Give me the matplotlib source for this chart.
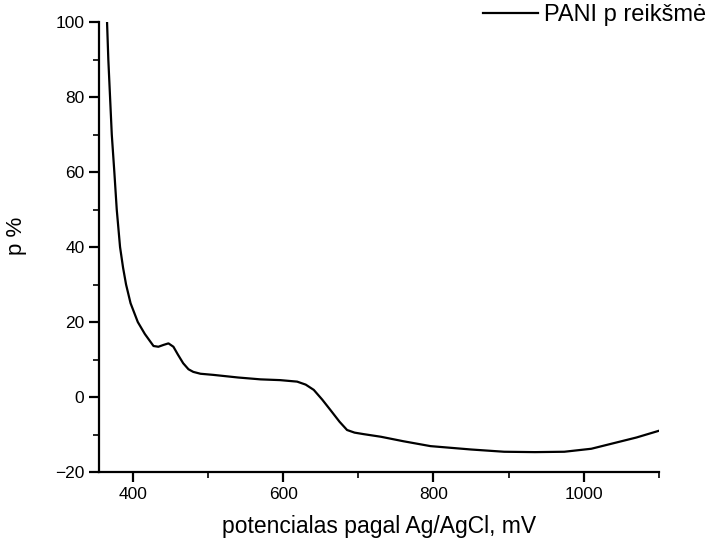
import matplotlib; matplotlib.use("Agg")
import matplotlib.pyplot as plt
from matplotlib.ticker import MultipleLocator

# PANI p reiksme vs potencialas (mV, Ag/AgCl)
E_mV=[365.7,367.4,369.7,372,375.4,378.6,383,387,391,397,406.6,416,427.5,434,441,447.4,454,460,467,474,480.4,490,507,540,570,596,618.6,630,640.7,652,663,675,685,695,707,730,760,796,850,894,935,974,1010,1040,1070,1100]
p_proc=[100,90,80,70,60,50,40,34.5,30,25,20,16.8,13.6,13.4,13.9,14.3,13.4,11.3,9.0,7.4,6.7,6.2,5.9,5.2,4.7,4.5,4.1,3.3,1.9,-0.7,-3.5,-6.6,-8.8,-9.5,-9.9,-10.6,-11.8,-13.1,-14.0,-14.6,-14.7,-14.6,-13.8,-12.3,-10.8,-9.0]

plt.rcParams["font.family"]=["Liberation Sans","DejaVu Sans"]
fig=plt.figure(figsize=(7.07,5.42),dpi=100)
ax=fig.add_axes([99/707,70/542,560/707,450/542])
ax.plot(E_mV,p_proc,color="black",lw=1.6,label="PANI p reikšmė")
ax.set_xlim(355,1100); ax.set_ylim(-20,100)
ax.xaxis.set_major_locator(MultipleLocator(200)); ax.xaxis.set_minor_locator(MultipleLocator(100))
ax.yaxis.set_major_locator(MultipleLocator(20)); ax.yaxis.set_minor_locator(MultipleLocator(10))
for s in ["top","right"]: ax.spines[s].set_visible(False)
for s in ["left","bottom"]: ax.spines[s].set_linewidth(1.6)
ax.tick_params(which="major",direction="out",length=7,width=1.6,labelsize=12.5)
ax.tick_params(which="minor",direction="out",length=4,width=1.2)
ax.set_xlabel("potencialas pagal Ag/AgCl, mV",fontsize=16.5,labelpad=10)
ax.set_ylabel("p %",fontsize=16)
ax.yaxis.set_label_coords(-0.128,0.524)
fig.legend(loc="center right",bbox_to_anchor=(1.0,1-15/542),frameon=False,fontsize=17,
           handlelength=2.3,handletextpad=0.25,borderpad=0,borderaxespad=0.05)
fig.savefig("out.png",dpi=100)
